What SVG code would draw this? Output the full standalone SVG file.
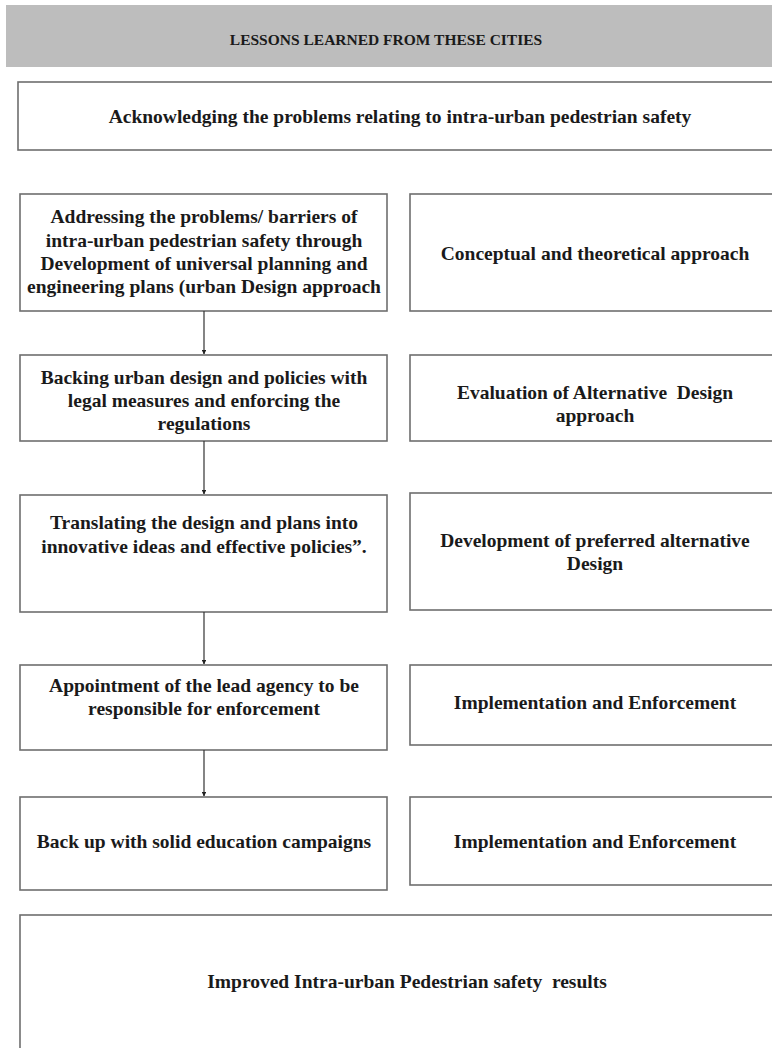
<svg xmlns="http://www.w3.org/2000/svg" width="772" height="1048" viewBox="0 0 772 1048">
  <defs>
    <marker id="arrowhead" viewBox="0 0 10 10" refX="9" refY="5" markerWidth="4" markerHeight="4" orient="auto">
      <path d="M0,0 L10,5 L0,10 z" fill="#222"/>
    </marker>
    <style>
      .box { fill: #ffffff; stroke: #6e6e6e; stroke-width: 1.6; }
      .head { fill: #bdbdbd; stroke: none; }
      .lbl { font-family: "Liberation Serif", "Times New Roman", serif; font-weight: bold; font-size: 19.5px; fill: #1a1a1a; text-anchor: middle; }
      .hlbl { font-family: "Liberation Serif", "Times New Roman", serif; font-weight: bold; font-size: 15.5px; fill: #1a1a1a; text-anchor: middle; }
      .pre { white-space: pre; }
      .conn { stroke: #333; stroke-width: 1.2; fill: none; }
    </style>
  </defs>
  <rect width="772" height="1048" fill="#ffffff"/>

  <g id="header">
    <rect class="head" x="6" y="5" width="770" height="62"/>
    <text class="hlbl" x="386" y="45">LESSONS LEARNED FROM THESE CITIES</text>
  </g>

  <g id="acknowledge">
    <rect class="box" x="18" y="82" width="760" height="68"/>
    <text class="lbl" x="400" y="123">Acknowledging the problems relating to intra-urban pedestrian safety</text>
  </g>

  <g id="addressing">
    <rect class="box" x="20" y="194" width="367" height="117"/>
    <text class="lbl" x="204" y="223">Addressing the problems/ barriers of</text>
    <text class="lbl" x="204" y="247">intra-urban pedestrian safety through</text>
    <text class="lbl" x="204" y="270">Development of universal planning and</text>
    <text class="lbl" x="204" y="293">engineering plans (urban Design approach</text>
  </g>
  <g id="conceptual">
    <rect class="box" x="410" y="194" width="370" height="117"/>
    <text class="lbl" x="595" y="260">Conceptual and theoretical approach</text>
  </g>

  <g id="backing">
    <rect class="box" x="20" y="355" width="367" height="86"/>
    <text class="lbl" x="204" y="384">Backing urban design and policies with</text>
    <text class="lbl" x="204" y="407">legal measures and enforcing the</text>
    <text class="lbl" x="204" y="430">regulations</text>
  </g>
  <g id="evaluation">
    <rect class="box" x="410" y="355" width="370" height="86"/>
    <text class="lbl pre" x="595" y="399">Evaluation of Alternative  Design</text>
    <text class="lbl" x="595" y="422">approach</text>
  </g>

  <g id="translating">
    <rect class="box" x="20" y="495" width="367" height="117"/>
    <text class="lbl" x="204" y="529">Translating the design and plans into</text>
    <text class="lbl" x="204" y="553">innovative ideas and effective policies”.</text>
  </g>
  <g id="preferred">
    <rect class="box" x="410" y="493" width="370" height="117"/>
    <text class="lbl" x="595" y="547">Development of preferred alternative</text>
    <text class="lbl" x="595" y="570">Design</text>
  </g>

  <g id="appointment">
    <rect class="box" x="20" y="665" width="367" height="85"/>
    <text class="lbl" x="204" y="692">Appointment of the lead agency to be</text>
    <text class="lbl" x="204" y="715">responsible for enforcement</text>
  </g>
  <g id="implementation1">
    <rect class="box" x="410" y="665" width="370" height="80"/>
    <text class="lbl" x="595" y="709">Implementation and Enforcement</text>
  </g>

  <g id="education">
    <rect class="box" x="20" y="797" width="367" height="93"/>
    <text class="lbl" x="204" y="848">Back up with solid education campaigns</text>
  </g>
  <g id="implementation2">
    <rect class="box" x="410" y="797" width="370" height="88"/>
    <text class="lbl" x="595" y="848">Implementation and Enforcement</text>
  </g>

  <g id="results">
    <rect class="box" x="20" y="915" width="760" height="140"/>
    <text class="lbl pre" x="407" y="988">Improved Intra-urban Pedestrian safety  results</text>
  </g>

  <g id="connectors">
    <line class="conn" x1="204" y1="311" x2="204" y2="354" marker-end="url(#arrowhead)"/>
    <line class="conn" x1="204" y1="441" x2="204" y2="494" marker-end="url(#arrowhead)"/>
    <line class="conn" x1="204" y1="612" x2="204" y2="664" marker-end="url(#arrowhead)"/>
    <line class="conn" x1="204" y1="750" x2="204" y2="796" marker-end="url(#arrowhead)"/>
  </g>
</svg>
